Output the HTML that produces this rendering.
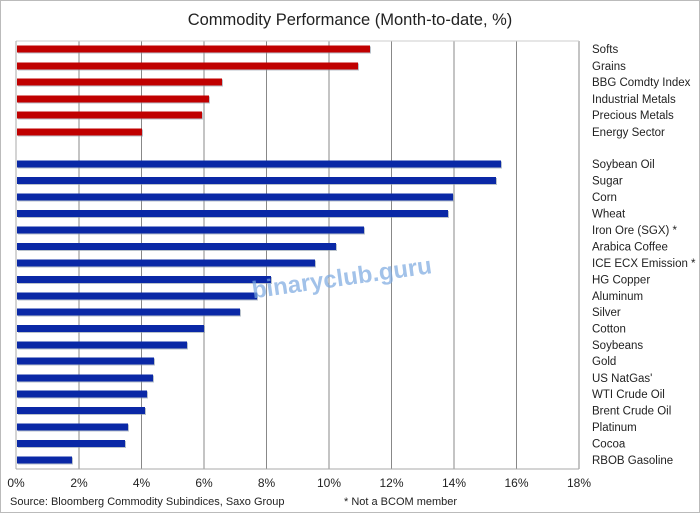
<!DOCTYPE html><html><head><style>body{margin:0;background:#fff}svg{display:block;font-family:"Liberation Sans",sans-serif}</style></head><body>
<svg width="700" height="513" xmlns="http://www.w3.org/2000/svg">
<rect x="0.5" y="0.5" width="699" height="512" fill="#fff" stroke="#bbb"/>
<text x="350" y="25" font-size="16.5" text-anchor="middle" fill="#222">Commodity Performance (Month-to-date, %)</text>
<g stroke="#888" stroke-width="1">
<line x1="79" y1="41" x2="79" y2="469"/><line x1="141.5" y1="41" x2="141.5" y2="469"/><line x1="204" y1="41" x2="204" y2="469"/><line x1="266.5" y1="41" x2="266.5" y2="469"/><line x1="329" y1="41" x2="329" y2="469"/><line x1="391.5" y1="41" x2="391.5" y2="469"/><line x1="454" y1="41" x2="454" y2="469"/><line x1="516.5" y1="41" x2="516.5" y2="469"/><line x1="579" y1="41" x2="579" y2="469"/>
</g>
<line x1="16" y1="41" x2="579" y2="41" stroke="#ccc"/>
<line x1="16" y1="41" x2="16" y2="469" stroke="#aaa"/>
<line x1="16" y1="469" x2="579" y2="469" stroke="#aaa"/>
<g id="bars"></g>
<g font-size="12" fill="#222">
<text x="16" y="487" text-anchor="middle">0%</text><text x="79" y="487" text-anchor="middle">2%</text><text x="141.5" y="487" text-anchor="middle">4%</text><text x="204" y="487" text-anchor="middle">6%</text><text x="266.5" y="487" text-anchor="middle">8%</text><text x="329" y="487" text-anchor="middle">10%</text><text x="391.5" y="487" text-anchor="middle">12%</text><text x="454" y="487" text-anchor="middle">14%</text><text x="516.5" y="487" text-anchor="middle">16%</text><text x="579" y="487" text-anchor="middle">18%</text>
</g>
<text x="10" y="505" font-size="11" fill="#222">Source: Bloomberg Commodity Subindices, Saxo Group</text>
<text x="344" y="505" font-size="11" fill="#222">* Not a BCOM member</text>
<text x="250" y="286" font-size="24" font-weight="bold" fill="#7aa8e0" fill-opacity="0.7" transform="rotate(-8 340 270)">binaryclub.guru</text>
</svg>
<script>
var d=[["Softs",49,370,0],["Grains",66,358,0],["BBG Comdty Index",82,222,0],["Industrial Metals",99,209,0],["Precious Metals",115,202,0],["Energy Sector",132,142,0],
["Soybean Oil",164,501,1],["Sugar",180.5,496,1],["Corn",197,453,1],["Wheat",213.5,448,1],["Iron Ore (SGX) *",230,364,1],["Arabica Coffee",246.5,336,1],["ICE ECX Emission *",263,315,1],["HG Copper",279.5,271,1],["Aluminum",296,257,1],["Silver",312,240,1],["Cotton",328.5,204,1],["Soybeans",345,187,1],["Gold",361,154,1],["US NatGas'",378,153,1],["WTI Crude Oil",394,147,1],["Brent Crude Oil",410.5,145,1],["Platinum",427,128,1],["Cocoa",443.5,125,1],["RBOB Gasoline",460,72,1]];
var s="";
d.forEach(function(r){var c=r[3]?"#0a28a6":"#c00000";
s+='<rect x="18" y="'+(r[1]-2.5)+'" width="'+(r[2]-17)+'" height="7" fill="#8a9aa8" opacity="0.6"/>';
s+='<rect x="17" y="'+(r[1]-3.5)+'" width="'+(r[2]-17)+'" height="7" fill="'+c+'"/>';
s+='<text x="592" y="'+(r[1]+4)+'" font-size="11.5" fill="#222">'+r[0]+'</text>';});
document.getElementById("bars").innerHTML=s;
</script>
</body></html>
